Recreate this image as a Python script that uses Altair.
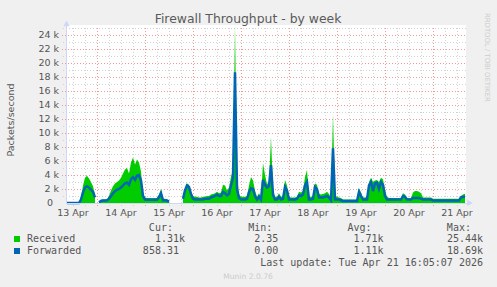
import altair as alt
import pandas as pd

# ---------------- data (k packets/second, hourly samples) ----------------
start_hour = 9  # first sample: 13 Apr 09:00 (hours since 13 Apr 00:00)
received = [
    0, 0, 0, 0, 0, 0, 0, 0.8, 2.5, 3.6,
    3.9, 3.5, 3.0, 2.4, 1.2, None, 0.2, 0.45, 0.5, 0.5,
    0.55, 1.0, 1.8, 2.4, 2.8, 3.0, 3.2, 3.6, 4.2, 4.8,
    5.0, 4.2, 5.8, 6.5, 5.5, 6.2, 5.8, 4.5, 1.5, 0.8,
    0.7, 0.7, 0.7, 0.7, 0.7, 0.7, 1.2, 2.0, 0.6, 0.6,
    0.5, 0.3, None, None, None, None, None, None, 0.8, 2.0,
    2.8, 2.6, 1.6, 1.0, 0.9, 0.9, 0.8, 0.8, 0.9, 0.9,
    1.0, 1.0, 1.2, 1.3, 1.4, 1.6, 1.4, 1.5, 2.6, 2.5,
    1.8, 2.2, 3.8, 4.8, 25.44, 4.0, 1.2, 0.9, 0.9, 0.9,
    1.0, 2.5, 3.7, 3.2, 1.8, 0.9, 1.4, 0.9, 5.7, 4.0,
    2.7, 3.0, 9.4, 2.0, 0.9, 0.9, 1.4, 0.9, 1.0, 3.3,
    2.5, 0.9, 0.8, 0.8, 0.8, 0.9, 1.6, 1.5, 1.7, 3.7,
    4.7, 0.9, 0.9, 1.0, 2.8, 2.6, 1.3, 1.2, 1.3, 1.4,
    1.6, 1.3, 0.7, 12.8, 0.9, 0.9, 0.8, 0.7, 0.5, 0.5,
    0.5, 0.5, 0.5, 0.5, 0.5, 0.5, 2.1, 1.5, 0.8, 0.8,
    0.9, 3.0, 3.6, 3.0, 3.2, 3.3, 3.0, 3.6, 3.4, 1.8,
    0.9, 0.7, 0.7, 0.7, 0.7, 0.7, 0.7, 0.7, 1.4, 1.2,
    0.7, 0.7, 0.7, 1.5, 1.7, 1.7, 1.6, 1.4, 0.8, 0.8,
    0.8, 0.8, 0.8, 0.6, 0.6, 0.6, 0.6, 0.6, 0.6, 0.6,
    0.6, 0.6, 0.6, 0.6, 0.6, 0.6, 0.6, 1.0, 1.2, 1.31,
]
forwarded = [
    0, 0, 0, 0, 0, 0, 0, 0.5, 1.5, 2.2,
    2.4, 2.2, 1.9, 1.6, 0.8, None, 0.1, 0.3, 0.35, 0.35,
    0.4, 0.6, 1.0, 1.4, 1.7, 1.9, 2.0, 2.2, 2.5, 2.8,
    2.9, 2.6, 3.4, 3.7, 3.3, 3.9, 4.0, 3.2, 1.0, 0.5,
    0.45, 0.45, 0.45, 0.45, 0.45, 0.45, 0.8, 1.4, 0.4, 0.4,
    0.35, 0.2, None, None, None, None, None, None, 0.6, 1.8,
    2.5, 2.3, 1.3, 0.6, 0.5, 0.5, 0.5, 0.5, 0.5, 0.6,
    0.6, 0.6, 0.8, 0.9, 1.0, 1.2, 1.0, 1.0, 1.6, 1.4,
    1.1, 1.3, 2.5, 3.6, 18.69, 2.0, 0.7, 0.5, 0.5, 0.5,
    0.6, 1.5, 2.1, 2.0, 1.0, 0.5, 0.9, 0.5, 3.3, 2.6,
    2.2, 2.4, 5.4, 1.2, 0.5, 0.5, 0.9, 0.5, 0.6, 2.3,
    1.8, 0.5, 0.5, 0.5, 0.5, 0.6, 1.1, 1.0, 1.2, 2.5,
    3.0, 0.5, 0.5, 0.6, 2.3, 2.0, 0.8, 0.8, 0.8, 0.9,
    1.0, 0.8, 0.4, 7.8, 0.5, 0.5, 0.5, 0.4, 0.3, 0.3,
    0.3, 0.3, 0.3, 0.3, 0.3, 0.3, 1.6, 1.0, 0.5, 0.5,
    0.5, 2.5, 3.0, 1.7, 2.8, 2.9, 2.0, 3.0, 2.6, 1.0,
    0.5, 0.5, 0.5, 0.5, 0.5, 0.5, 0.5, 0.5, 1.0, 0.9,
    0.5, 0.5, 0.5, 0.7, 0.7, 0.7, 0.7, 0.6, 0.5, 0.5,
    0.5, 0.5, 0.5, 0.35, 0.35, 0.35, 0.35, 0.35, 0.35, 0.35,
    0.35, 0.35, 0.35, 0.35, 0.35, 0.35, 0.35, 0.8, 0.9, 0.86,
]
day_labels = ["13 Apr", "14 Apr", "15 Apr", "16 Apr", "17 Apr",
              "18 Apr", "19 Apr", "20 Apr", "21 Apr"]
y_ticks = [2, 4, 6, 8, 10, 12, 14, 16, 18, 20, 22, 24]
y_tick_labels = ["2 k", "4 k", "6 k", "8 k", "10 k", "12 k", "14 k",
                 "16 k", "18 k", "20 k", "22 k", "24 k"]
series_names = ["Received", "Forwarded"]
series_colors = ["#00CC00", "#0066B3"]
col_heads = ["Cur:", "Min:", "Avg:", "Max:"]
received_stats = ["1.31k", "2.35", "1.71k", "25.44k"]
forwarded_stats = ["858.31", "0.00", "1.11k", "18.69k"]
title_text = "Firewall Throughput - by week"
y_title = "Packets/second"
last_update = "Last update: Tue Apr 21 16:05:07 2026"
watermark = "Munin 2.0.76"
side_text = "RRDTOOL / TOBI OETIKER"

# ---------------- layout ----------------
W, H = 400, 178
OX, OY = 66, 25
px = lambda x: x - OX
py = lambda y: y - OY
FG = "#555555"
AXC = "#CFD6F8"
GRID_MIN = "#d2d2d2"
GRID_MAJ = "#f29a9a"

xs = alt.Scale(domain=[8.5, 208.5], nice=False, zero=False)
ys = alt.Scale(domain=[0, 178 / 7], nice=False, zero=True)


def X(f):
    return alt.X(f, type="quantitative", scale=xs, axis=None)


def Y(f):
    return alt.Y(f, type="quantitative", scale=ys, axis=None)


def txt(s, x, y, **kw):
    return alt.Chart(pd.DataFrame({"t": [s]})).mark_text(**kw).encode(
        text="t:N", x=alt.value(x), y=alt.value(y))


df = pd.DataFrame({
    "h": [start_hour + i for i in range(len(received))],
    "R": received,
    "F": forwarded,
})

vmin = [h for h in range(12, 209, 6) if h % 24]
vmaj = list(range(24, 209, 24))
hmin = list(range(1, 26, 2))
hmaj = list(range(2, 25, 2))

layers = []
layers.append(alt.Chart(pd.DataFrame({"h": vmin})).mark_rule(
    color=GRID_MIN, strokeDash=[1, 2], xOffset=0.5).encode(
    x=X("h"), y=alt.value(3), y2=alt.value(H + 3)))
layers.append(alt.Chart(pd.DataFrame({"k": hmin})).mark_rule(
    color=GRID_MIN, strokeDash=[1, 2], yOffset=0.5).encode(
    y=Y("k"), x=alt.value(-3), x2=alt.value(W)))
layers.append(alt.Chart(pd.DataFrame({"h": vmaj})).mark_rule(
    color=GRID_MAJ, strokeDash=[1, 2], xOffset=0.5).encode(
    x=X("h"), y=alt.value(3), y2=alt.value(H + 3)))
layers.append(alt.Chart(pd.DataFrame({"k": hmaj})).mark_rule(
    color=GRID_MAJ, strokeDash=[1, 2], yOffset=0.5).encode(
    y=Y("k"), x=alt.value(-4), x2=alt.value(W)))

# data
layers.append(alt.Chart(df).mark_area(color=series_colors[0]).encode(
    x=X("h"), y=Y("R")))
layers.append(alt.Chart(df).mark_line(color=series_colors[1], strokeWidth=2.5).encode(
    x=X("h"), y=Y("F")))

# axes lines + arrows
one = pd.DataFrame({"a": [0]})
layers.append(alt.Chart(one).mark_rule(color=AXC).encode(
    x=alt.value(0.5), y=alt.value(-2), y2=alt.value(H)))
layers.append(alt.Chart(one).mark_rule(color=AXC).encode(
    x=alt.value(0), x2=alt.value(W + 3), y=alt.value(H + 0.5)))
layers.append(alt.Chart(one).mark_point(shape="triangle-up", filled=True, size=40,
                                         color=AXC, opacity=1).encode(
    x=alt.value(0.5), y=alt.value(-1.5)))
layers.append(alt.Chart(one).mark_point(shape="triangle-right", filled=True, size=40,
                                         color=AXC, opacity=1).encode(
    x=alt.value(W + 4), y=alt.value(H)))

# tick labels
layers.append(alt.Chart(pd.DataFrame({"k": y_ticks, "t": y_tick_labels})).mark_text(
    align="right", baseline="middle", font="DejaVu Sans", fontSize=9.5, color=FG).encode(
    y=Y("k"), x=alt.value(-7), text="t:N"))
layers.append(txt("0", -13, H, align="right", baseline="middle",
                  font="DejaVu Sans", fontSize=9.5, color=FG))
layers.append(alt.Chart(pd.DataFrame({"h": [12 + 24 * j for j in range(len(day_labels))],
                                      "t": day_labels})).mark_text(
    align="center", baseline="middle", font="DejaVu Sans", fontSize=9.5, color=FG).encode(
    x=X("h"), y=alt.value(H + 9.5), text="t:N"))

# titles
layers.append(txt(title_text, px(248), py(19), align="center", baseline="middle",
                  font="DejaVu Sans", fontSize=12.4, color="#5a5a5a"))
layers.append(txt(y_title, px(10.5), py(120), align="center", baseline="middle",
                  angle=270, font="DejaVu Sans", fontSize=9.5, color=FG))
layers.append(txt(side_text, px(487), py(13), align="left", baseline="middle",
                  angle=90, font="DejaVu Sans", fontSize=6.9, color="#cccccc"))
layers.append(txt(watermark, px(248), py(277), align="center", baseline="middle",
                  font="DejaVu Sans", fontSize=7.6, color="#cccccc"))

# legend
MONO = "DejaVu Sans Mono"
CH = 6.02
col_right = [185, 284.3, 383.6, 483]
for c, head in enumerate(col_heads):
    layers.append(txt(head, px(col_right[c] - 2 * CH), py(228), align="right",
                      baseline="middle", font=MONO, fontSize=10, color=FG))
for r, (name, color, stats) in enumerate(zip(series_names, series_colors,
                                              [received_stats, forwarded_stats])):
    yrow = py(239 + 12 * r)
    layers.append(alt.Chart(one).mark_square(size=36, color=color, opacity=1).encode(
        x=alt.value(px(17)), y=alt.value(yrow)))
    layers.append(txt(name, px(27), yrow, align="left", baseline="middle",
                      font=MONO, fontSize=10, color=FG))
    for c, s in enumerate(stats):
        right = col_right[c] - (0 if s[-1].isalpha() else CH)
        layers.append(txt(s, px(right), yrow, align="right", baseline="middle",
                          font=MONO, fontSize=10, color=FG))
layers.append(txt(last_update, px(483), py(263), align="right", baseline="middle",
                  font=MONO, fontSize=10, color=FG))

chart = alt.layer(*layers).properties(
    width=W, height=H, background="#f0f0f0",
    padding={"left": OX, "top": OY, "right": 497 - OX - W, "bottom": 287 - OY - H},
    autosize=alt.AutoSizeParams(type="none"),
).configure_view(fill="white", stroke=None)

chart.save("out.html", embed_options={"renderer": "svg", "actions": False})
